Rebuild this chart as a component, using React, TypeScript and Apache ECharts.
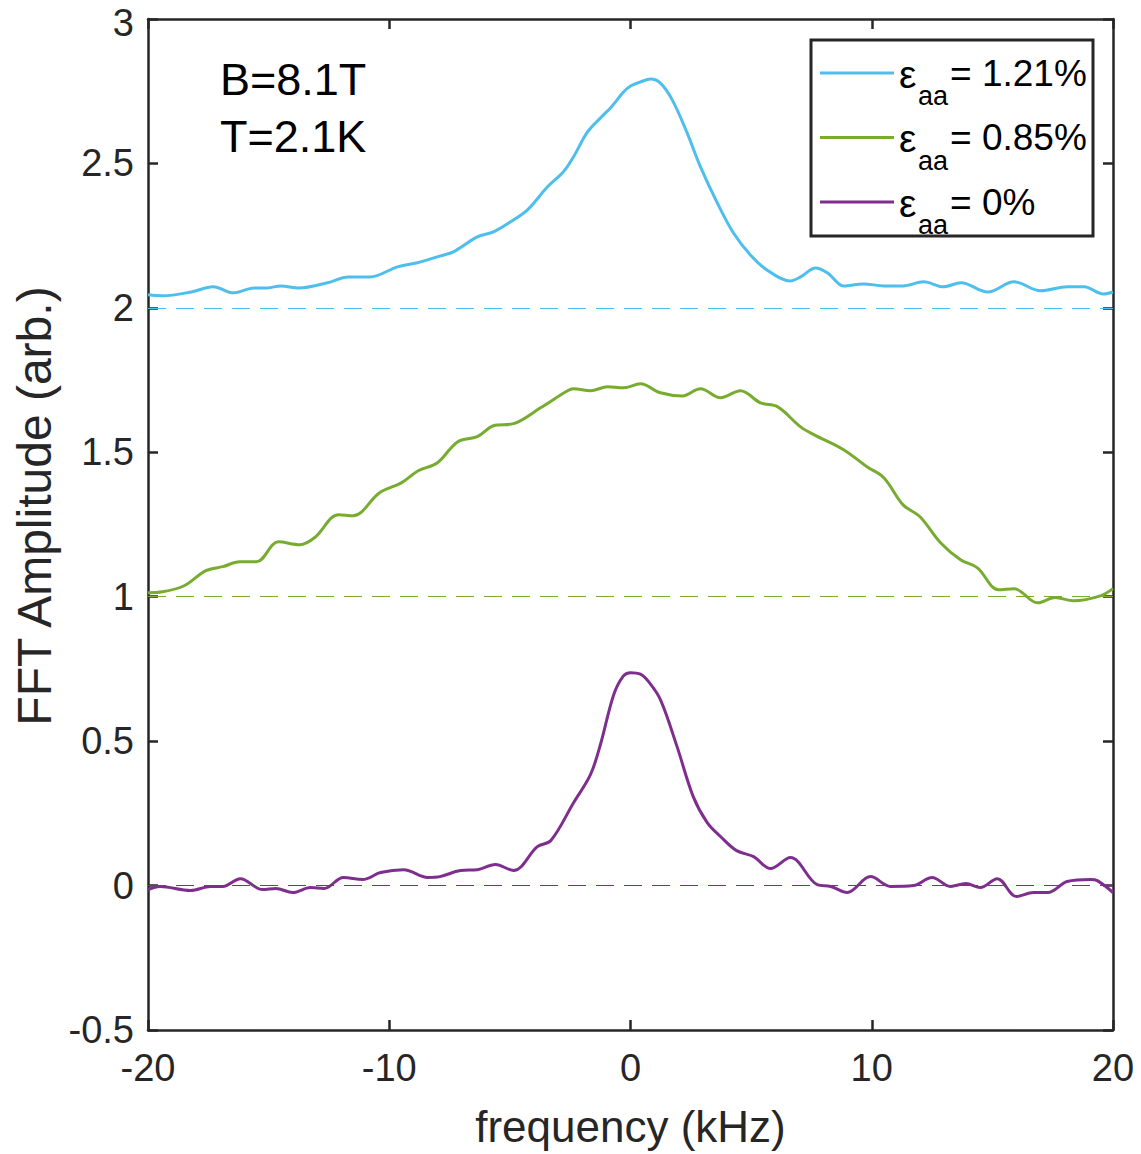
import React, { useEffect, useRef } from "react";
import * as echarts from "echarts";

// ---- data ----
const blueFreq = [-20, -19.4, -18.2, -17.3, -16.45, -15.6, -15.05, -14.5, -13.76, -12.56, -11.7, -10.8, -9.66, -8.83, -7.88, -7.34, -6.35, -5.68, -4.97, -4.27, -3.44, -2.78, -2.36, -1.78, -1.12, -0.83, -0.29, 0.0, 0.41, 0.83, 1.24, 1.73, 2.35, 2.9, 3.6, 4.27, 4.97, 5.66, 6.63, 7.05, 7.67, 8.17, 8.83, 9.66, 10.5, 11.3, 12.15, 12.97, 13.7, 14.8, 15.9, 17.0, 18.1, 18.8, 19.6, 20];
const blueAmp = [2.045, 2.042, 2.055, 2.073, 2.052, 2.069, 2.069, 2.076, 2.069, 2.087, 2.107, 2.107, 2.142, 2.156, 2.18, 2.194, 2.246, 2.263, 2.298, 2.339, 2.419, 2.471, 2.523, 2.609, 2.668, 2.692, 2.747, 2.768, 2.782, 2.792, 2.778, 2.72, 2.605, 2.488, 2.363, 2.259, 2.183, 2.131, 2.093, 2.107, 2.138, 2.121, 2.076, 2.083, 2.076, 2.076, 2.09, 2.073, 2.087, 2.055, 2.09, 2.059, 2.073, 2.073, 2.048, 2.055];

const greenFreq = [-20, -19.4, -18.5, -17.6, -16.9, -16.2, -15.5, -14.6, -13.7, -13.1, -12.1, -11.5, -10.4, -9.5, -8.8, -8.0, -7.17, -6.35, -5.68, -4.85, -3.73, -2.61, -2.36, -1.66, -0.95, -0.29, 0.41, 1.24, 2.15, 2.9, 3.73, 4.56, 5.39, 6.09, 7.05, 7.6, 8.83, 9.8, 10.5, 11.3, 12.0, 12.85, 13.68, 14.38, 15.25, 15.9, 16.87, 17.6, 18.36, 19.48, 20];
const greenAmp = [1.014, 1.017, 1.038, 1.09, 1.104, 1.121, 1.121, 1.19, 1.18, 1.204, 1.284, 1.28, 1.36, 1.394, 1.436, 1.464, 1.536, 1.554, 1.592, 1.599, 1.654, 1.713, 1.72, 1.713, 1.727, 1.723, 1.737, 1.706, 1.695, 1.72, 1.689, 1.713, 1.671, 1.658, 1.588, 1.561, 1.509, 1.45, 1.412, 1.318, 1.277, 1.187, 1.128, 1.1, 1.024, 1.028, 0.979, 0.997, 0.986, 1.003, 1.028];

const purpleFreq = [-20, -19.5, -18.24, -17.4, -16.9, -16.17, -15.25, -14.7, -14.0, -13.26, -12.7, -11.9, -11.1, -10.36, -9.4, -8.4, -7.9, -7.05, -6.35, -5.6, -4.85, -3.86, -3.3, -2.36, -1.66, -1.24, -0.7, -0.3, 0, 0.41, 0.75, 1.24, 1.93, 2.6, 3.18, 3.73, 4.4, 5.1, 5.8, 6.63, 7.74, 8.3, 8.98, 9.95, 10.78, 11.73, 12.5, 13.26, 13.9, 14.5, 15.2, 16.0, 16.7, 17.3, 18.1, 19.07, 19.35, 20];
const purpleAmp = [-0.014, -0.003, -0.017, -0.003, -0.003, 0.024, -0.014, -0.01, -0.024, -0.007, -0.01, 0.028, 0.021, 0.045, 0.055, 0.028, 0.031, 0.052, 0.055, 0.073, 0.052, 0.135, 0.156, 0.287, 0.384, 0.49, 0.66, 0.725, 0.737, 0.732, 0.706, 0.644, 0.481, 0.308, 0.218, 0.17, 0.121, 0.1, 0.059, 0.097, 0.003, -0.003, -0.024, 0.031, -0.003, 0, 0.028, -0.003, 0.007, -0.007, 0.024, -0.038, -0.024, -0.024, 0.014, 0.021, 0.017, -0.024];

const seriesNames = ["= 1.21%", "= 0.85%", "= 0%"];
const baselines = [2, 1, 0];
const annotations = ["B=8.1T", "T=2.1K"];
const xTitle = "frequency (kHz)";
const yTitle = "FFT Amplitude (arb.)";

const COLORS = ["#4DBEEE", "#77AC30", "#7E2F8E"];
const FONT = "Liberation Sans, Arial, Helvetica, sans-serif";
const AXC = "#262626";

function pairs(xs: number[], ys: number[]) {
  return xs.map((x, i) => [x, ys[i]]);
}

export default function App() {
  const ref = useRef<HTMLDivElement>(null);
  useEffect(() => {
    document.body.style.margin = "0";
    const chart = echarts.init(ref.current!, null, { renderer: "svg" });
    const datasets = [pairs(blueFreq, blueAmp), pairs(greenFreq, greenAmp), pairs(purpleFreq, purpleAmp)];

    const xBase = {
      type: "value",
      min: -20,
      max: 20,
      interval: 10,
      splitLine: { show: false },
      axisLine: { show: true, onZero: false, lineStyle: { color: AXC, width: 2.5 } },
      axisTick: { show: true, inside: true, length: 10, lineStyle: { color: AXC, width: 2.5 } },
    };
    const yBase = {
      type: "value",
      min: -0.5,
      max: 3,
      interval: 0.5,
      splitLine: { show: false },
      axisLine: { show: true, onZero: false, lineStyle: { color: AXC, width: 2.5 } },
      axisTick: { show: true, inside: true, length: 10, lineStyle: { color: AXC, width: 2.5 } },
    };

    const legendTop = 73;
    const legendStep = 64.5;
    const legendGraphics: any[] = [
      {
        type: "rect",
        shape: { x: 811, y: 40, width: 282, height: 196 },
        style: { fill: "#fff", stroke: AXC, lineWidth: 3 },
        z: 100,
      },
    ];
    seriesNames.forEach((nm, i) => {
      const cy = legendTop + i * legendStep;
      legendGraphics.push(
        { type: "line", shape: { x1: 820, y1: cy, x2: 894, y2: cy }, style: { stroke: COLORS[i], lineWidth: 3 }, z: 101 },
        { type: "text", x: 899, y: cy + 1, style: { text: "ε", font: `39px ${FONT}`, fill: "#000", textAlign: "left", textVerticalAlign: "middle" }, z: 101 },
        { type: "text", x: 918, y: cy + 23, style: { text: "aa", font: `27px ${FONT}`, fill: "#000", textAlign: "left", textVerticalAlign: "middle" }, z: 101 },
        { type: "text", x: 950, y: cy, style: { text: nm, font: `37px ${FONT}`, fill: "#000", textAlign: "left", textVerticalAlign: "middle" }, z: 101 }
      );
    });

    const option: any = {
      animation: false,
      backgroundColor: "#fff",
      grid: { left: 148, right: 28, top: 19, bottom: 124, containLabel: false, outerBoundsMode: "none" },
      xAxis: [
        {
          ...xBase,
          position: "bottom",
          name: xTitle,
          nameLocation: "middle",
          nameGap: 74,
          nameTextStyle: { fontSize: 44, fontFamily: FONT, color: AXC },
          axisLabel: { fontSize: 38, fontFamily: FONT, color: AXC, margin: 22, lineHeight: 32 },
        },
        { ...xBase, position: "top", axisLabel: { show: false } },
      ],
      yAxis: [
        {
          ...yBase,
          position: "left",
          axisLabel: {
            fontSize: 38,
            fontFamily: FONT,
            color: AXC,
            margin: 14,
            lineHeight: 30,
            formatter: (v: number) => (v === 3 ? `{top|${v}}` : `${v}`),
            rich: { top: { fontSize: 38, fontFamily: FONT, color: AXC, lineHeight: 30, padding: [8, 0, 0, 0] } },
          },
        },
        { ...yBase, position: "right", axisLabel: { show: false } },
      ],
      series: datasets.map((d, i) => ({
        type: "line",
        name: seriesNames[i],
        data: d,
        xAxisIndex: 0,
        yAxisIndex: 0,
        smooth: 0.35,
        showSymbol: false,
        symbol: "none",
        lineStyle: { color: COLORS[i], width: 3 },
        itemStyle: { color: COLORS[i] },
        z: 3,
        markLine: {
          silent: true,
          symbol: "none",
          label: { show: false },
          lineStyle: { color: COLORS[i], width: 1, type: [18, 10] },
          data: [{ yAxis: baselines[i] }],
          z: 2,
        },
      })),
      graphic: [
        {
          type: "text",
          x: 34,
          y: 506,
          rotation: Math.PI / 2,
          style: { text: yTitle, font: `48px ${FONT}`, fill: AXC, textAlign: "center", textVerticalAlign: "middle" },
          z: 100,
        },
        ...annotations.map((t, i) => ({
          type: "text",
          x: 220,
          y: 79 + i * 57,
          style: { text: t, font: `45px ${FONT}`, fill: "#000", textAlign: "left", textVerticalAlign: "middle" },
          z: 100,
        })),
        ...legendGraphics,
      ],
    };
    chart.setOption(option);
    return () => chart.dispose();
  }, []);
  return <div ref={ref} style={{ width: 1141, height: 1154 }} />;
}
